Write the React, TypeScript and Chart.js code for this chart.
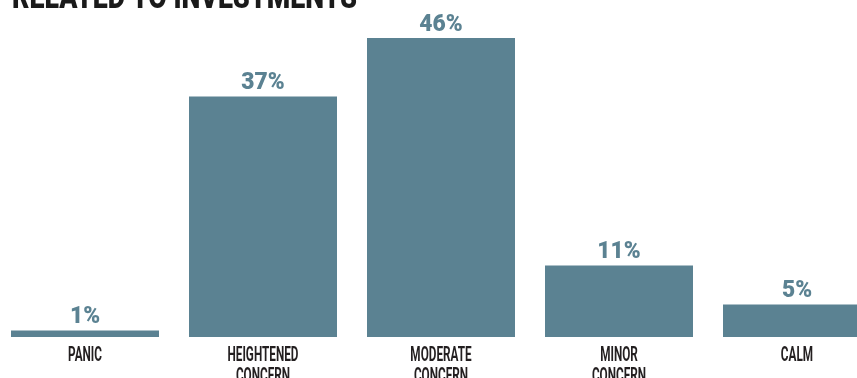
import React, { useEffect, useRef } from "react";
import { Chart, registerables } from "chart.js";

Chart.register(...registerables);

const TITLE = "RELATED TO INVESTMENTS";
const categories: string[][] = [
  ["PANIC"],
  ["HEIGHTENED", "CONCERN"],
  ["MODERATE", "CONCERN"],
  ["MINOR", "CONCERN"],
  ["CALM"],
];
const values: number[] = [1, 37, 46, 11, 5];
const valueLabels: string[] = ["1%", "37%", "46%", "11%", "5%"];

const BAR = "#5b8292";
const TEXT_DARK = "#231f20";
const CANVAS_W = 890;
const CANVAS_H = 420;

const decorPlugin = {
  id: "decor",
  afterDraw(chart: any) {
    const ctx = chart.ctx;
    const xScale = chart.scales.x;
    const meta = chart.getDatasetMeta(0);
    ctx.save();
    // value labels
    ctx.fillStyle = BAR;
    ctx.font = "900 24px Roboto";
    ctx.textAlign = "center";
    ctx.textBaseline = "alphabetic";
    meta.data.forEach((bar: any, i: number) => {
      ctx.save();
      ctx.translate(bar.x, bar.y - 7.5);
      ctx.scale(0.95, 1);
      ctx.fillText(valueLabels[i], 0, 0);
      ctx.restore();
    });
    // category labels (condensed)
    ctx.fillStyle = TEXT_DARK;
    ctx.font = "700 21px Roboto";
    const bottom = chart.chartArea.bottom;
    categories.forEach((lines, i) => {
      const x = xScale.getPixelForValue(i);
      lines.forEach((line, j) => {
        ctx.save();
        ctx.translate(x, bottom + 24 + j * 20.5);
        ctx.scale(0.56, 1);
        ctx.fillText(line, 0, 0);
        ctx.restore();
      });
    });
    // title (mostly cut off above)
    ctx.fillStyle = "#1a1a1a";
    ctx.font = "900 34px Roboto";
    ctx.textAlign = "left";
    ctx.save();
    ctx.translate(16, 7.5);
    const w = ctx.measureText(TITLE).width;
    ctx.scale(345 / w, 1);
    ctx.fillText(TITLE, 0, 0);
    ctx.restore();
    ctx.restore();
  },
};

export default function App() {
  const ref = useRef<HTMLCanvasElement | null>(null);
  useEffect(() => {
    if (!ref.current) return;
    const chart = new Chart(ref.current, {
      type: "bar",
      data: {
        labels: categories.map((c) => c.join(" ")),
        datasets: [
          {
            data: values,
            backgroundColor: BAR,
            borderWidth: 0,
            categoryPercentage: 1,
            barPercentage: 148 / 178,
          },
        ],
      },
      options: {
        responsive: false,
        animation: false,
        devicePixelRatio: 1,
        layout: { padding: { top: 12, bottom: CANVAS_H - 337, left: 0, right: 0 } },
        plugins: {
          legend: { display: false },
          tooltip: { enabled: false },
          title: { display: false },
        },
        scales: {
          x: { display: false },
          y: { display: false, min: 0, max: 50 },
        },
      },
      plugins: [decorPlugin],
    });
    return () => chart.destroy();
  }, []);
  return (
    <div
      style={{
        position: "fixed",
        left: 0,
        top: 0,
        width: 857,
        height: 378,
        overflow: "hidden",
        background: "#fff",
      }}
    >
      <canvas
        ref={ref}
        width={CANVAS_W}
        height={CANVAS_H}
        style={{ position: "absolute", left: -4, top: 0, width: CANVAS_W, height: CANVAS_H }}
      />
    </div>
  );
}
